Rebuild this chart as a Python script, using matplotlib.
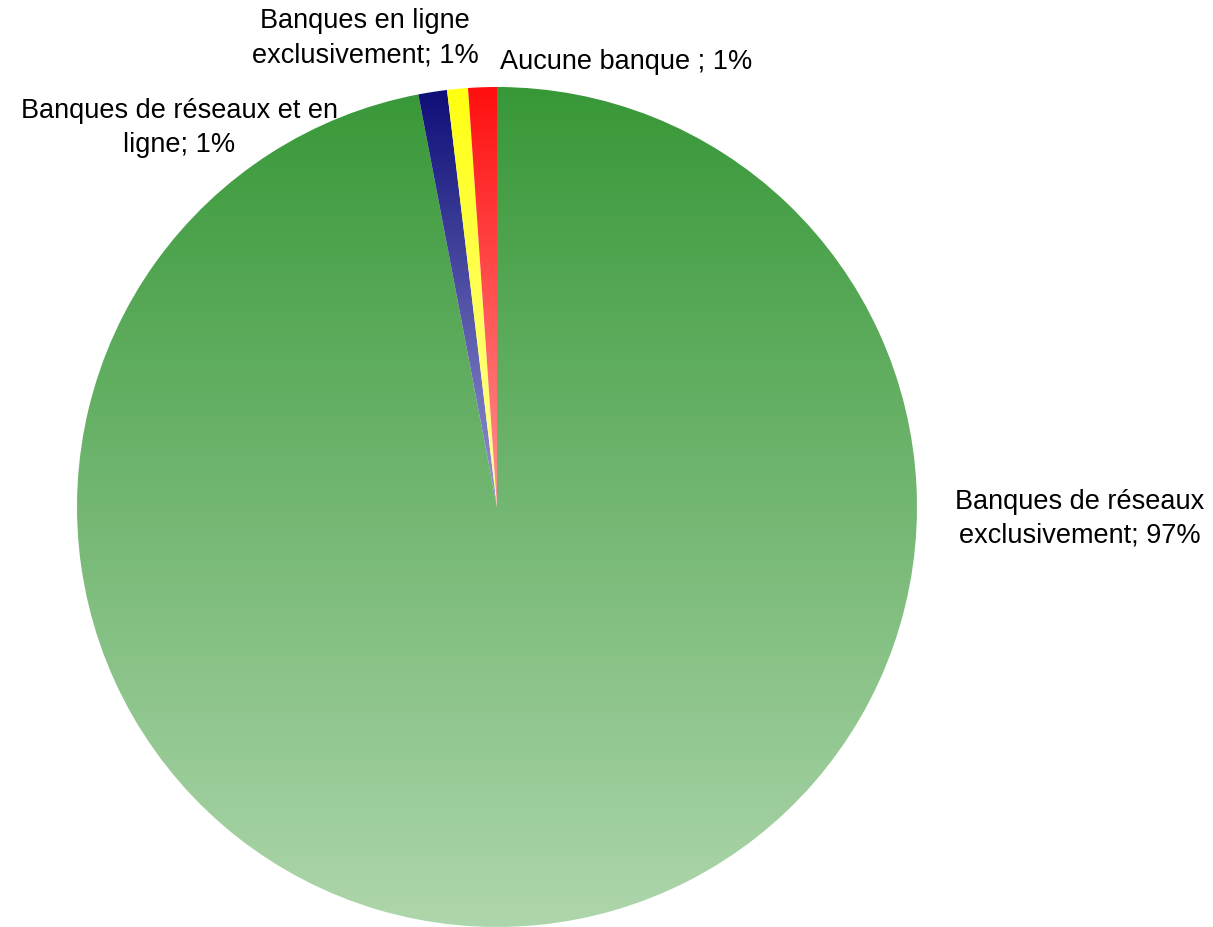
import matplotlib
matplotlib.use('Agg')
import matplotlib.pyplot as plt
import matplotlib.colors as mcolors
import numpy as np

labels = ['Banques de réseaux\nexclusivement; 97%',
          'Banques de réseaux et en\nligne; 1%',
          'Banques en ligne\nexclusivement; 1%',
          'Aucune banque ; 1%']
values = [97.0, 1.1, 0.8, 1.1]
# top / bottom colours of the vertical gradient in each slice
tops = ['#389838', '#0e0e78', '#ffff10', '#ff0f0f']
bottoms = ['#aed6ac', '#9494d4', '#ffff9c', '#ff9494']
# label anchor points (radius units, centre of the pie = 0,0)
label_xy = [(1.388, -0.026), (-0.757, 0.905), (-0.314, 1.119), (0.007, 1.062)]
label_ha = ['center', 'center', 'center', 'left']

plt.rcParams['font.family'] = ['Liberation Sans', 'DejaVu Sans']

fig = plt.figure(figsize=(12.13, 9.28), dpi=100)
ax = fig.add_axes([77/1213, 0.0, 840/1213, 840/928])
wedges, _ = ax.pie(values, startangle=90, counterclock=False, radius=1,
                   wedgeprops=dict(linewidth=0))

for w, c0, c1 in zip(wedges, tops, bottoms):
    a = np.array(mcolors.to_rgb(c0))
    b = np.array(mcolors.to_rgb(c1))
    t = np.linspace(0, 1, 256)[:, None]
    grad = (a[None, :] * (1 - t) + b[None, :] * t)[:, None, :]
    bb = w.get_path().get_extents()
    im = ax.imshow(grad, extent=(bb.x0, bb.x1, bb.y0, bb.y1), origin='upper',
                   aspect='auto', interpolation='bilinear', zorder=w.get_zorder())
    im.set_clip_path(w)
    w.set_facecolor('none')

for lab, (x, y), ha in zip(labels, label_xy, label_ha):
    ax.text(x, y, lab, ha=ha, va='center', fontsize=19.5, linespacing=1.4,
            color='black', clip_on=False)

ax.set_xlim(-1, 1)
ax.set_ylim(-1, 1)
ax.set_aspect('equal')
ax.axis('off')

fig.savefig('out.png', dpi=100)
